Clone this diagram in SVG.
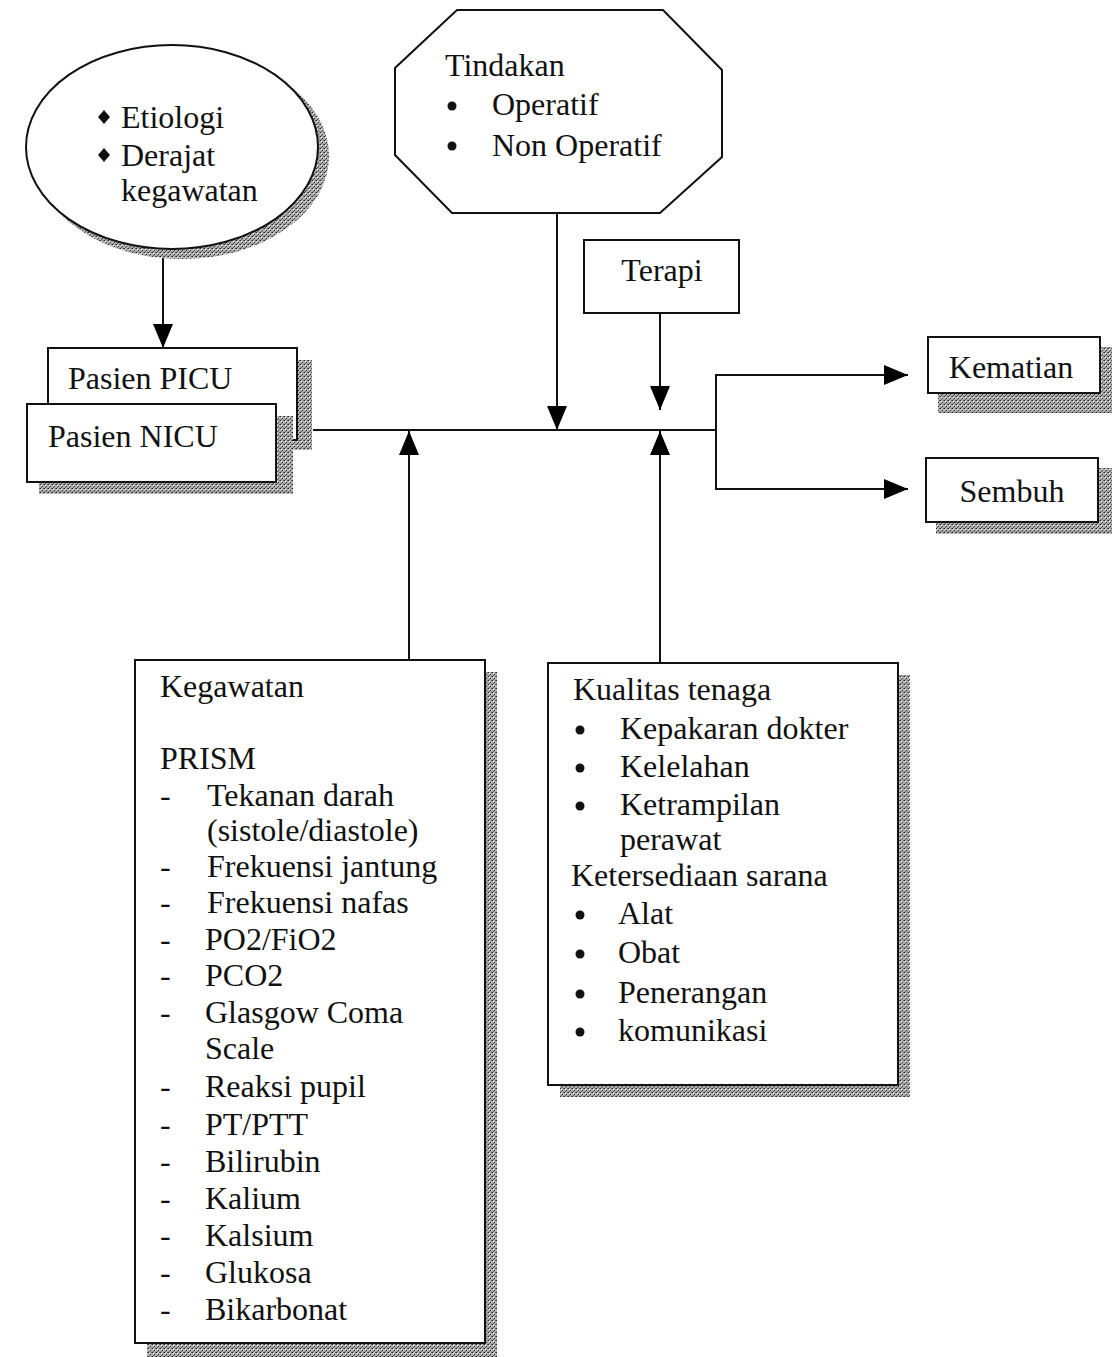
<svg xmlns="http://www.w3.org/2000/svg" width="1112" height="1357" viewBox="0 0 1112 1357">
<defs>
<pattern id="stip" width="4" height="4" patternUnits="userSpaceOnUse">
<rect width="4" height="4" fill="#b0b0b0"/>
<rect x="0" y="0" width="1" height="1" fill="#222"/>
<rect x="2" y="2" width="1" height="1" fill="#333"/>
<rect x="3" y="0" width="1" height="1" fill="#666"/>
<rect x="1" y="3" width="1" height="1" fill="#555"/>
<rect x="1" y="1" width="1" height="1" fill="#eee"/>
</pattern>
<marker id="ah" viewBox="0 0 24 20" refX="24" refY="10" markerWidth="24" markerHeight="20" markerUnits="userSpaceOnUse" orient="auto">
<path d="M0,0 L24,10 L0,20 Z" fill="#000"/>
</marker>
</defs>
<style>
text{font-family:"Liberation Serif","Times New Roman",serif;font-size:32px;fill:#111}
.box{fill:#fff;stroke:#111;stroke-width:2}
.sh{fill:url(#stip)}
.ln{fill:none;stroke:#111;stroke-width:2}
.mid{text-anchor:middle}
</style>
<rect width="1112" height="1357" fill="#fff"/>

<g id="connectors">
<line class="ln" x1="163" y1="250" x2="163" y2="348" marker-end="url(#ah)"/>
<line class="ln" x1="313" y1="430" x2="716" y2="430"/>
<polyline class="ln" points="908,375 716,375 716,489 908,489"/>
<line class="ln" x1="716" y1="375" x2="908" y2="375" marker-end="url(#ah)"/>
<line class="ln" x1="716" y1="489" x2="908" y2="489" marker-end="url(#ah)"/>
<line class="ln" x1="557" y1="213" x2="557" y2="430" marker-end="url(#ah)"/>
<line class="ln" x1="660" y1="313" x2="660" y2="410" marker-end="url(#ah)"/>
<line class="ln" x1="409" y1="660" x2="409" y2="431" marker-end="url(#ah)"/>
<line class="ln" x1="660" y1="663" x2="660" y2="431" marker-end="url(#ah)"/>
</g>

<g id="etiologi">
<ellipse class="sh" cx="182" cy="156" rx="147" ry="103"/>
<ellipse class="box" cx="172" cy="147" rx="146" ry="102"/>
<path d="M104,110 L110,117 L104,124 L98,117 Z" fill="#111"/>
<path d="M104,148 L110,155 L104,162 L98,155 Z" fill="#111"/>
<text x="121" y="128">Etiologi</text>
<text x="121" y="166">Derajat</text>
<text x="121" y="201">kegawatan</text>
</g>

<g id="pasien">
<rect class="sh" x="60" y="360" width="252" height="90"/>
<rect class="box" x="48" y="348" width="249" height="92"/>
<text x="68" y="389">Pasien PICU</text>
<rect class="sh" x="39" y="416" width="254" height="78"/>
<rect class="box" x="27" y="404" width="249" height="78"/>
<text x="48" y="447">Pasien NICU</text>
</g>

<g id="tindakan">
<polygon class="box" points="457,10 663,10 722,70 722,157 660,213 452,213 395,155 395,68"/>
<text x="445" y="76">Tindakan</text>
<circle cx="452" cy="106" r="4.5" fill="#111"/>
<circle cx="452" cy="146" r="4.5" fill="#111"/>
<text x="492" y="115">Operatif</text>
<text x="492" y="156">Non Operatif</text>
</g>

<g id="terapi">
<rect class="box" x="584" y="240" width="155" height="73"/>
<text class="mid" x="662" y="281">Terapi</text>
</g>

<g id="kematian">
<rect class="sh" x="938" y="347" width="174" height="66"/>
<rect class="box" x="928" y="337" width="172" height="56"/>
<text class="mid" x="1011" y="378">Kematian</text>
</g>

<g id="sembuh">
<rect class="sh" x="936" y="468" width="176" height="66"/>
<rect class="box" x="926" y="458" width="172" height="64"/>
<text class="mid" x="1012" y="502">Sembuh</text>
</g>

<g id="kegawatan">
<rect class="sh" x="147" y="672" width="350" height="685"/>
<rect class="box" x="135" y="660" width="350" height="683"/>
<text x="160" y="697">Kegawatan</text>
<text x="160" y="769">PRISM</text>
<g>
<text x="160" y="806">-</text><text x="207" y="806">Tekanan darah</text>
<text x="207" y="841">(sistole/diastole)</text>
<text x="160" y="877">-</text><text x="207" y="877">Frekuensi jantung</text>
<text x="160" y="913">-</text><text x="207" y="913">Frekuensi nafas</text>
<text x="160" y="950">-</text><text x="205" y="950">PO2/FiO2</text>
<text x="160" y="986">-</text><text x="205" y="986">PCO2</text>
<text x="160" y="1023">-</text><text x="205" y="1023">Glasgow Coma</text>
<text x="205" y="1059">Scale</text>
<text x="160" y="1097">-</text><text x="205" y="1097">Reaksi pupil</text>
<text x="160" y="1135">-</text><text x="205" y="1135">PT/PTT</text>
<text x="160" y="1172">-</text><text x="205" y="1172">Bilirubin</text>
<text x="160" y="1209">-</text><text x="205" y="1209">Kalium</text>
<text x="160" y="1246">-</text><text x="205" y="1246">Kalsium</text>
<text x="160" y="1283">-</text><text x="205" y="1283">Glukosa</text>
<text x="160" y="1320">-</text><text x="205" y="1320">Bikarbonat</text>
</g>
</g>

<g id="kualitas">
<rect class="sh" x="560" y="675" width="350" height="422"/>
<rect class="box" x="548" y="663" width="350" height="422"/>
<text x="573" y="700">Kualitas tenaga</text>
<circle cx="580" cy="730" r="4.5" fill="#111"/>
<text x="620" y="739">Kepakaran dokter</text>
<circle cx="580" cy="768" r="4.5" fill="#111"/>
<text x="620" y="777">Kelelahan</text>
<circle cx="580" cy="806" r="4.5" fill="#111"/>
<text x="620" y="815">Ketrampilan</text>
<text x="620" y="850">perawat</text>
<text x="571" y="886">Ketersediaan sarana</text>
<circle cx="580" cy="915" r="4.5" fill="#111"/>
<text x="618" y="924">Alat</text>
<circle cx="580" cy="954" r="4.5" fill="#111"/>
<text x="618" y="963">Obat</text>
<circle cx="580" cy="994" r="4.5" fill="#111"/>
<text x="618" y="1003">Penerangan</text>
<circle cx="580" cy="1032" r="4.5" fill="#111"/>
<text x="618" y="1041">komunikasi</text>
</g>
</svg>
